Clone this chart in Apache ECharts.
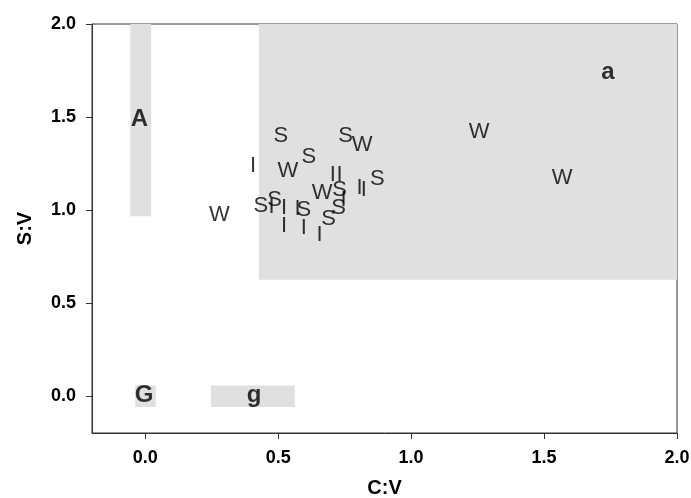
<!DOCTYPE html>
<html>
<head>
<meta charset="utf-8">
<script src="https://cdn.jsdelivr.net/npm/echarts@6/dist/echarts.min.js"></script>
<style>
	html, body { margin: 0; padding: 0; background: #fff; }
	#main { width: 691px; height: 498px; }
</style>
</head>
<body>
<div id="main"></div>
<script>
// points: [C:V, S:V]
var sPoints = [[0.510, 1.396], [0.754, 1.399], [0.615, 1.283], [0.873, 1.167], [0.731, 1.109],
	[0.727, 1.011], [0.435, 1.019], [0.487, 1.055], [0.597, 1.002], [0.690, 0.952]];
var wPoints = [[0.816, 1.351], [0.537, 1.208], [0.665, 1.091], [0.279, 0.971], [1.256, 1.419], [1.568, 1.172]];
var iPoints = [[0.406, 1.234], [0.706, 1.190], [0.731, 1.190], [0.806, 1.118], [0.822, 1.105], [0.746, 1.055],
	[0.475, 1.016], [0.522, 1.011], [0.573, 1.005], [0.522, 0.912], [0.597, 0.903], [0.656, 0.867]];

// shaded regions: [x0, x1, y0, y1]
var regions = [[-0.056, 0.0225, 0.966, 2.0], [0.4275, 2.0, 0.625, 2.0], [-0.0375, 0.04, -0.06, 0.056], [0.2475, 0.5625, -0.06, 0.056]];
// region names and where they sit
var regionNames = ['A', 'a', 'G', 'g'];
var regionNamePos = [[-0.022, 1.486], [1.74, 1.738], [-0.004, 0.0], [0.41, 0.0]];

var tickValues = [0, 0.5, 1, 1.5, 2];
var fontFam = 'Liberation Sans, Arial, sans-serif';

function letterSeries(name, pts) {
	return {
		type: 'scatter',
		name: name,
		data: pts,
		symbolSize: 1,
		itemStyle: { color: 'rgba(0,0,0,0)' },
		label: {
			show: true,
			position: 'inside',
			formatter: name,
			color: '#000',
			fontSize: 22,
			fontFamily: fontFam
		},
		z: 5
	};
}

var myChart = echarts.init(document.getElementById('main'));
var axisCommon = {
	type: 'value',
	min: -0.2,
	max: 2.0,
	nameLocation: 'middle',
	nameTextStyle: { fontSize: 20, fontWeight: 'bold', color: '#000', fontFamily: fontFam },
	axisLine: { show: true, onZero: false, lineStyle: { color: '#333', width: 1 } },
	axisTick: { show: true, inside: false, length: 6, lineStyle: { color: '#333' }, customValues: tickValues },
	axisLabel: {
		fontSize: 18, fontWeight: 'bold', color: '#000', fontFamily: fontFam,
		margin: 16,
		customValues: tickValues,
		formatter: function (v) { return v.toFixed(1); }
	},
	splitLine: { show: false }
};

myChart.setOption({
	animation: false,
	backgroundColor: '#fff',
	grid: {
		left: 92, top: 24, right: 14, bottom: 65,
		outerBoundsMode: 'none',
		containLabel: false,
		show: true, borderColor: '#333', borderWidth: 1
	},
	xAxis: Object.assign({}, axisCommon, { name: 'C:V', nameGap: 45 }),
	yAxis: Object.assign({}, axisCommon, { name: 'S:V', nameGap: 57 }),
	series: [
		{
			type: 'custom',
			data: regions,
			renderItem: function (params, api) {
				var p0 = api.coord([api.value(0), api.value(3)]);
				var p1 = api.coord([api.value(1), api.value(2)]);
				return {
					type: 'rect',
					shape: { x: p0[0], y: p0[1], width: p1[0] - p0[0], height: p1[1] - p0[1] },
					style: { fill: '#e0e0e0' }
				};
			},
			z: 1
		},
		{
			type: 'scatter',
			data: regionNamePos.map(function (p, i) { return { value: p, name: regionNames[i] }; }),
			symbolSize: 1,
			itemStyle: { color: 'rgba(0,0,0,0)' },
			label: {
				show: true,
				position: 'inside',
				formatter: '{b}',
				color: '#000',
				fontSize: 24,
				fontWeight: 'bold',
				fontFamily: fontFam
			},
			z: 4
		},
		letterSeries('S', sPoints),
		letterSeries('W', wPoints),
		letterSeries('I', iPoints)
	]
});
</script>
</body>
</html>
